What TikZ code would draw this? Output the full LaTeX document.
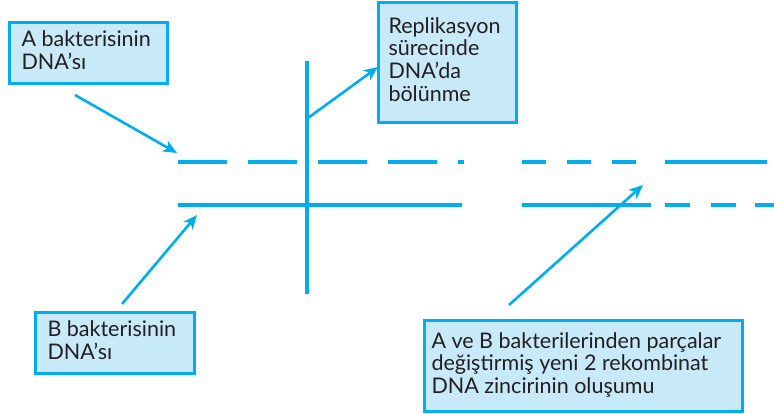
\documentclass[tikz,border=0pt]{standalone}
\usepackage{fontspec}
\setmainfont{Lato}
\usetikzlibrary{arrows.meta}
\definecolor{dnablue}{HTML}{00AEEF}
\definecolor{boxfill}{HTML}{C8E9F8}
\definecolor{ink}{HTML}{231F20}
% left-aligned lines inside a box of fixed width
\newcommand{\boxlines}[2]{\makebox[#1][l]{\begin{tabular}{@{}l@{}}#2\end{tabular}}}
\tikzset{
  labelbox/.style={draw=dnablue, line width=3pt, fill=boxfill, text=ink,
    anchor=north west, inner xsep=12pt, inner ysep=0pt,
    font=\fontsize{21.5}{22}\selectfont},
  strand/.style={dnablue, line width=4pt, line cap=butt},
  pointer/.style={dnablue, line width=2.6pt,
    -{Stealth[length=14pt,width=12pt,inset=4pt]}}
}
\begin{document}
\begin{tikzpicture}[x=1pt,y=-1pt]
\useasboundingbox (0,0) rectangle (774,413);

% label boxes
\node[labelbox, minimum width=158pt, minimum height=61pt] (boxA) at (8,21)
  {\boxlines{134pt}{A bakterisinin\\DNA’sı}};
\node[labelbox, minimum width=138pt, minimum height=120pt, inner xsep=10pt] (boxR) at (377,1)
  {\boxlines{118pt}{Replikasyon\\sürecinde\\DNA’da\\bölünme}};
\node[labelbox, minimum width=159pt, minimum height=61pt] (boxB) at (34,311)
  {\boxlines{135pt}{B bakterisinin\\DNA’sı}};
\node[labelbox, minimum width=318pt, minimum height=91pt, inner xsep=7pt] (boxC) at (423,319)
  {\boxlines{304pt}{A ve B bakterilerinden parçalar\\değiştirmiş yeni 2 rekombinat\\DNA zincirinin oluşumu}};

% upper strand
\foreach \a/\b in {178/227, 248/297, 318/367, 388/437, 458/464, 522/546, 567/591, 612/636, 665/767}
  \draw[strand] (\a,162) -- (\b,162);
% lower strand
\foreach \a/\b in {178/462, 522/651, 665/690, 711/736, 755/774}
  \draw[strand] (\a,205) -- (\b,205);
% cut line
\coordinate (cutTop) at (307,61);
\coordinate (cutBot) at (307,294);
\draw[strand] (cutTop) -- (cutBot);

% pointer ends
\coordinate (aStart) at (75,95);    \coordinate (aTip) at (177,153);
\coordinate (bStart) at (122,304);  \coordinate (bTip) at (197,215);
\coordinate (rStart) at (308,118);  \coordinate (rTip) at (378,67);
\coordinate (cStart) at (509,305);  \coordinate (cTip) at (643,185);

\draw[pointer] (aStart) -- (aTip);
\draw[pointer] (bStart) -- (bTip);
\draw[pointer] (rStart) -- (rTip);
\draw[pointer] (cStart) -- (cTip);
\end{tikzpicture}
\end{document}
